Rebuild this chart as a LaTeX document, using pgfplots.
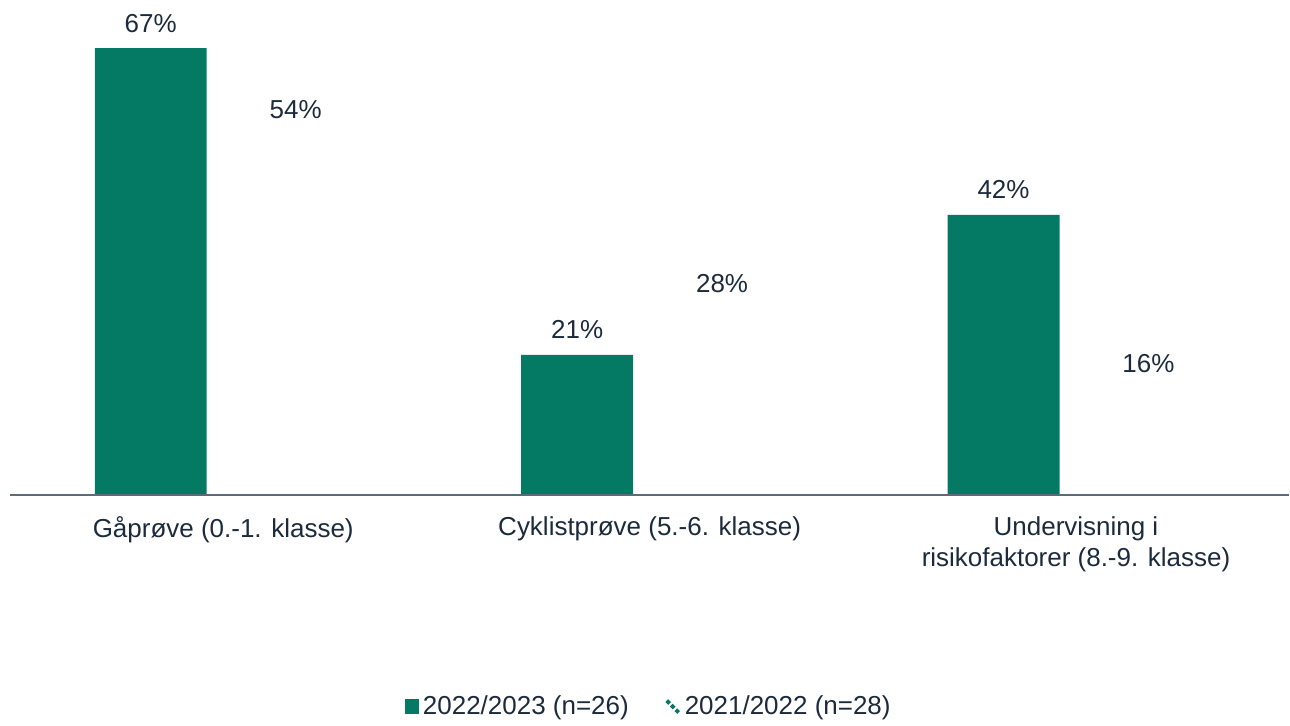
\documentclass[border=0pt]{standalone}
\usepackage{pgfplots}
\pgfplotsset{compat=1.18}
\usepackage{fontspec}
\setmainfont{Liberation Sans}
\definecolor{barGreen}{HTML}{047A64}
\definecolor{txt}{HTML}{1C2B3C}
\definecolor{axisGray}{HTML}{5B6B78}
\begin{document}
\fontsize{13}{15.6}\selectfont
\begin{tikzpicture}
\begin{axis}[
  scale only axis,
  width=640pt, height=247.5pt,
  ybar, bar width=56pt,
  xmin=-0.5, xmax=2.5,
  ymin=0, ymax=74.2,
  xtick={0,1,2},
  xticklabels={Gåprøve (0.-1. klasse), Cyklistprøve (5.-6. klasse), {Undervisning i\\risikofaktorer (8.-9. klasse)}},
  xticklabel style={align=center, text=txt, font=\fontsize{13}{15.6}\selectfont, yshift=-6.5pt},
  major tick length=0pt,
  ytick=\empty,
  axis y line=none,
  axis x line*=bottom,
  axis on top,
  x axis line style={axisGray, line width=0.8pt, -},
  clip=false,
  /pgf/number format/assume math mode=true,
  nodes near coords={\pgfmathprintnumber{\pgfplotspointmeta}\%},
  every node near coord/.append style={text=txt, font=\fontsize{13}{15.6}\selectfont, anchor=base, yshift=8pt},
  legend style={at={(0.5,-0.428)}, anchor=center, draw=none, legend columns=2,
    font=\fontsize{13}{15.6}\selectfont, text=txt,
    /tikz/every even column/.append style={column sep=16pt}},
  legend cell align=left,
]
\addplot[fill=barGreen, draw=none, bar shift=-36.25pt,
  legend image code/.code={\fill[barGreen] (0pt,-3.6pt) rectangle (7.2pt,3.6pt);}]
  coordinates {(0,67) (1,21) (2,42)};
\addlegendentry{2022/2023 (n=26)}
\addplot[fill=none, draw=none, bar shift=36.25pt,
  legend image code/.code={\draw[barGreen, line width=2pt, dash pattern=on 2pt off 1.2pt] (0.5pt,3pt) -- (6.5pt,-3pt);}]
  coordinates {(0,54) (1,28) (2,16)};
\addlegendentry{2021/2022 (n=28)}
\end{axis}
\path (current axis.south west) -- ++(-5pt,0);
\path (current axis.north west) -- ++(0,0.1pt);
\path (current axis.south west) -- ++(0,-112.5pt);
\end{tikzpicture}
\end{document}
